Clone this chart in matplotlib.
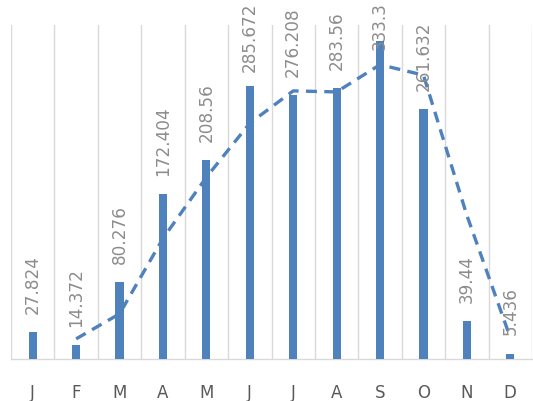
import numpy as np
import pandas as pd
import matplotlib
matplotlib.use("Agg")
import matplotlib.pyplot as plt
from matplotlib.ticker import FixedLocator

months = ["J", "F", "M", "A", "M", "J", "J", "A", "S", "O", "N", "D"]
values = [27.824, 14.372, 80.276, 172.404, 208.56, 285.672,
          276.208, 283.56, 333.3, 261.632, 39.44, 5.436]


def main():
    dpi = 100
    blue = "#4F81BD"
    grid = "#D9D9D9"
    label_grey = "#8C8C8C"
    tick_grey = "#595959"

    # two-period moving average trendline
    trend = pd.Series(values).rolling(2).mean()

    fig = plt.figure(figsize=(5.33, 4.02), dpi=dpi)
    ax = fig.add_axes([11 / 533, 1 - 360 / 402, 521 / 533, 334 / 402])

    x = np.arange(len(values))
    ax.bar(x, values, width=0.19, color=blue, zorder=3)
    ax.plot(x, trend, color=blue, linewidth=2.4,
            linestyle=(0, (3.3, 2.2)), zorder=4)

    ax.set_xlim(-0.5, len(values) - 0.5)
    ax.set_ylim(0, 350)

    ax.xaxis.set_minor_locator(FixedLocator(np.arange(-0.5, len(values), 1.0)))
    ax.grid(which="minor", axis="x", color=grid, linewidth=1.0, zorder=0)
    ax.set_xticks(x)
    ax.set_xticklabels(months)
    ax.tick_params(axis="x", which="both", length=0, pad=17,
                   labelsize=12, labelcolor=tick_grey)
    ax.set_yticks([])
    for side in ["left", "right", "top"]:
        ax.spines[side].set_visible(False)
    ax.spines["bottom"].set_color(grid)
    ax.spines["bottom"].set_linewidth(1.0)

    labels = []
    for xi, v in zip(x, values):
        ann = ax.annotate(f"{v:g}", xy=(xi, v), xytext=(0, 14),
                          textcoords="offset points", rotation=90,
                          ha="center", va="bottom", fontsize=12.2,
                          color=label_grey, annotation_clip=False, zorder=5)
        labels.append(ann)

    # keep labels inside the figure, pushing them down where needed
    fig.canvas.draw()
    renderer = fig.canvas.get_renderer()
    top = fig.bbox.height - 2
    for ann in labels:
        bb = ann.get_window_extent(renderer)
        if bb.y1 > top:
            shift = (bb.y1 - top) * 72 / dpi
            ann.xyann = (0, 14 - shift)

    fig.savefig("out.png", dpi=dpi)


if __name__ == "__main__":
    main()
